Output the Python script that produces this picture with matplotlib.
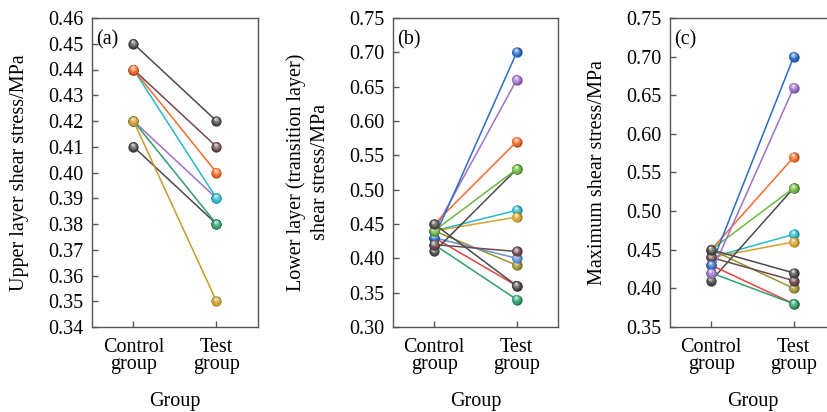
import matplotlib.pyplot as plt
from matplotlib.colors import to_rgb
from matplotlib.transforms import offset_copy

plt.rcParams['font.family'] = ['Liberation Serif', 'DejaVu Serif']
plt.rcParams['font.size'] = 14.5

groups = ['Control\ngroup', 'Test\ngroup']

# (a) upper layer shear stress, MPa
a_control = [0.42, 0.44, 0.44, 0.44, 0.41, 0.42, 0.42, 0.45]
a_test = [0.39, 0.39, 0.41, 0.40, 0.38, 0.38, 0.35, 0.42]
a_colors = ['#9b72c8', '#2ab8c8', '#6e4a4e', '#f26b2a', '#4a4a4a',
            '#2f9e6e', '#c99a2a', '#4a4a4a']

# (b) lower (transition) layer shear stress, MPa
b_control = [0.44, 0.44, 0.44, 0.44, 0.43, 0.43, 0.42, 0.45, 0.43,
             0.41, 0.44, 0.42, 0.45]
b_test = [0.47, 0.46, 0.39, 0.66, 0.40, 0.36, 0.34, 0.57, 0.70,
          0.53, 0.53, 0.41, 0.36]
b_colors = ['#2ab8c8', '#d4a030', '#9a9030', '#9b72c8', '#6294d0',
            '#e8413f', '#2f9e6e', '#f26b2a', '#2b6cc4',
            '#4a4a4a', '#6cb840', '#6e4a4e', '#4a4a4a']

# (c) maximum shear stress, MPa
c_control = [0.44, 0.44, 0.45, 0.45, 0.41, 0.45, 0.43, 0.42, 0.44,
             0.43, 0.42, 0.45]
c_test = [0.47, 0.46, 0.40, 0.57, 0.53, 0.53, 0.38, 0.38, 0.41,
          0.70, 0.66, 0.42]
c_colors = ['#2ab8c8', '#d4a030', '#9a9030', '#f26b2a', '#4a4a4a',
            '#6cb840', '#e8413f', '#2f9e6e', '#6e4a4e',
            '#2b6cc4', '#9b72c8', '#4a4a4a']


def mix(c, other, t):
    c = to_rgb(c)
    o = to_rgb(other)
    return tuple(ci * (1 - t) + oi * t for ci, oi in zip(c, o))


def ball(ax, x, y, color, z):
    # shaded sphere marker built from stacked circles
    layers = [(7.4, mix(color, 'black', 0.25), 0.0, 0.0),
              (6.6, color, -0.2, 0.3),
              (4.6, mix(color, 'white', 0.25), -0.5, 0.9),
              (2.8, mix(color, 'white', 0.55), -0.7, 1.4),
              (1.3, mix(color, 'white', 0.85), -0.8, 1.7)]
    for ms, col, dx, dy in layers:
        tr = offset_copy(ax.transData, fig=ax.figure, x=dx, y=dy, units='points')
        ax.plot(x, y, 'o', ms=ms, color=col, mec='none', transform=tr,
                zorder=z, clip_on=False)


def panel(ax, control, test, colors, ylim, step, ylabel, tag, lsp=1.0):
    z = 3
    for c0, c1, col in zip(control, test, colors):
        ax.plot([0, 1], [c0, c1], '-', color=col, lw=1.1, zorder=2)
    for c0, c1, col in zip(control, test, colors):
        ball(ax, [0, 1], [c0, c1], col, z)
        z += 0.01
    ax.set_xlim(-0.5, 1.5)
    ax.set_ylim(*ylim)
    n = int(round((ylim[1] - ylim[0]) / step))
    ax.set_yticks([ylim[0] + i * step for i in range(n + 1)])
    ax.yaxis.set_major_formatter(plt.FormatStrFormatter('%.2f'))
    ax.set_xticks([0, 1])
    ax.set_xticklabels(groups, linespacing=0.85)
    ax.tick_params(direction='in', length=4, width=1.0, color='#555555',
                   pad=6, top=False, right=False)
    ax.tick_params(axis='x', pad=8)
    for s in ax.spines.values():
        s.set_color('#555555')
        s.set_linewidth(1.0)
    ax.set_ylabel(ylabel, linespacing=lsp)
    ax.yaxis.set_label_coords(-0.38, 0.5)
    ax.set_xlabel('Group')
    ax.xaxis.set_label_coords(0.5, -0.21)
    ax.text(0.025, 0.96, tag, transform=ax.transAxes, ha='left', va='top')


fig = plt.figure(figsize=(8.28, 4.12), dpi=100)
W, H = 828, 412
bot = (H - 327) / H
hgt = 309 / H
ax1 = fig.add_axes([92 / W, bot, 166 / W, hgt])
ax2 = fig.add_axes([393 / W, bot, 165 / W, hgt])
ax3 = fig.add_axes([670 / W, bot, 165 / W, hgt])

panel(ax1, a_control, a_test, a_colors, (0.34, 0.46), 0.01,
      'Upper layer shear stress/MPa', '(a)')
panel(ax2, b_control, b_test, b_colors, (0.30, 0.75), 0.05,
      'Lower layer (transition layer)\nshear stress/MPa', '(b)', lsp=1.35)
panel(ax3, c_control, c_test, c_colors, (0.35, 0.75), 0.05,
      'Maximum shear stress/MPa', '(c)')

fig.savefig('out.png', dpi=100)
